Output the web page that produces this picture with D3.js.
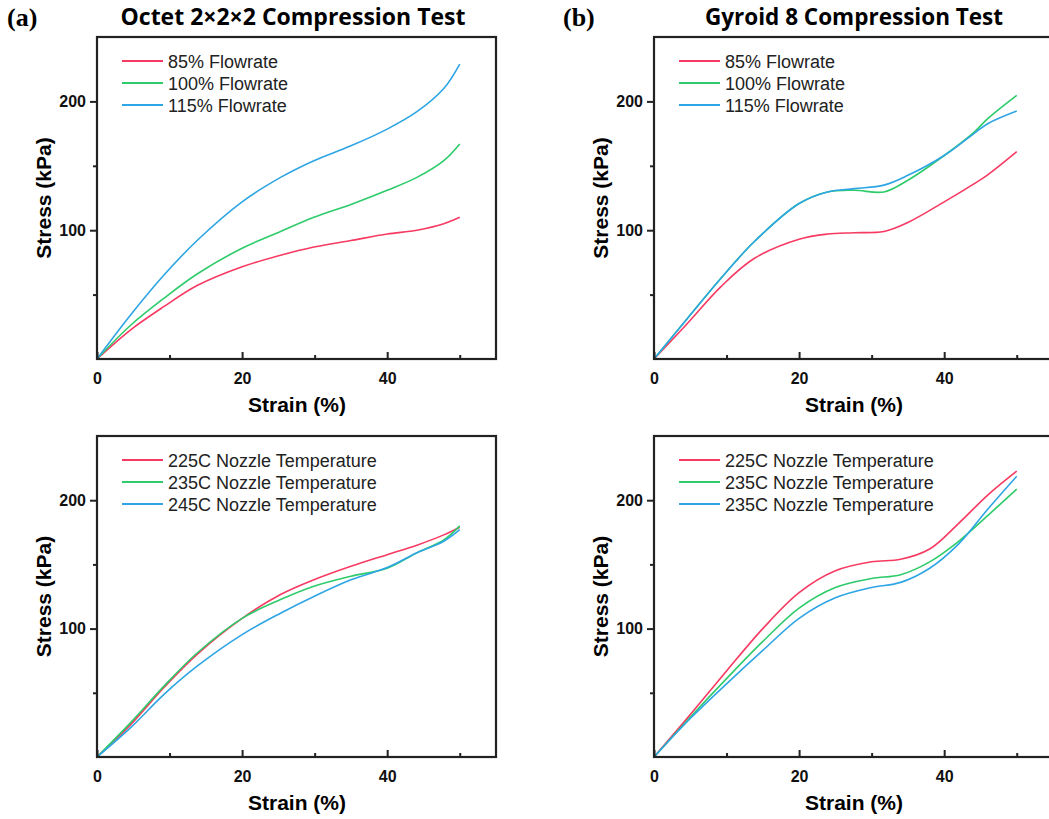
<!DOCTYPE html>
<html>
<head>
<meta charset="utf-8">
<script src="https://cdn.jsdelivr.net/npm/d3@7"></script>
<style>
  body { margin: 0; background: #fff; }
  svg { display: block; }
  .tick text { font-family: Arial, "Liberation Sans", sans-serif; font-weight: bold; font-size: 16px; fill: #111; }
</style>
</head>
<body>
<svg id="chart" width="1049" height="819"></svg>
<script>
// strain (%) samples shared by all series
const strainA = [0, 4.6, 9.2, 13.8, 20, 25.3, 29.9, 35, 40, 44.1, 47.8, 50];
const octetFlow85  = [0, 22.5, 40.6, 57, 71.6, 80.6, 87, 92, 97, 100, 105, 110];
const octetFlow100 = [0, 26, 47, 66, 86, 99, 110, 120, 131, 141, 154, 167];
const octetFlow115 = [0, 34, 65, 92, 122, 141, 154, 165.5, 178.5, 192, 210, 229];

const strainB = [0, 4.6, 9.2, 13.8, 20, 23.9, 27.6, 31.7, 35, 40, 44.1, 46, 50];
const gyroidFlow85  = [0, 27.6, 56, 78, 93, 97, 98, 99, 106, 122, 136, 143, 161];
const gyroidFlow100 = [0, 31.5, 62.5, 91, 120.7, 129.7, 131, 129.7, 138.8, 158, 176, 186.6, 204.7];
const gyroidFlow115 = [0, 31.5, 62.5, 91, 120.7, 129.7, 132.3, 135, 142.6, 158, 175, 182.7, 192.5];

const octetTemp225 = [0, 25, 54, 80, 108, 126.5, 138, 148.5, 157.6, 165, 173, 179];
const octetTemp235 = [0, 26.6, 55, 81, 108, 122.6, 133, 140.8, 147, 159, 169, 180];
const octetTemp245 = [0, 22.7, 48.6, 70.7, 95.3, 112, 125, 138, 147.5, 159, 168, 177];

const strainC = [0, 5, 10, 15, 20, 25, 30, 34, 38, 42, 46, 50];
const gyroidTemp225  = [0, 33, 67, 100, 128, 145, 152, 154, 162, 182, 204, 222.6];
const gyroidTemp235a = [0, 31, 61, 90, 116, 132, 139, 142, 152, 168, 188, 208.6];
const gyroidTemp235b = [0, 30, 57, 83, 108, 124, 132, 136, 147, 166, 193, 218.7];

const flowLabels = ["85% Flowrate", "100% Flowrate", "115% Flowrate"];
const octetTempLabels = ["225C Nozzle Temperature", "235C Nozzle Temperature", "245C Nozzle Temperature"];
const gyroidTempLabels = ["225C Nozzle Temperature", "235C Nozzle Temperature", "235C Nozzle Temperature"];
const colors = ["#f63a62", "#2ecb6a", "#2ea5e4"];

const svg = d3.select("#chart");
const sans = "Arial, 'Liberation Sans', sans-serif";

function panel(x0, y0, w, h, xs, series, labels) {
  const x = d3.scaleLinear().domain([0, 55]).range([x0, x0 + w]);
  const y = d3.scaleLinear().domain([0, 250]).range([y0 + h, y0]);
  const g = svg.append("g");

  const line = d3.line().x(d => x(d[0])).y(d => y(d[1])).curve(d3.curveCatmullRom.alpha(0.5));
  series.forEach((s, i) => {
    g.append("path")
      .datum(xs.map((v, j) => [v, s[j]]))
      .attr("d", line)
      .attr("fill", "none")
      .attr("stroke", colors[i])
      .attr("stroke-width", 1.6);
  });

  // minor ticks
  g.append("g").attr("transform", `translate(0,${y0 + h})`)
    .call(d3.axisTop(x).tickValues([10, 30, 50]).tickSize(4).tickFormat(""))
    .call(a => a.select(".domain").remove())
    .selectAll("line").attr("stroke", "#222").attr("stroke-width", 2);
  g.append("g").attr("transform", `translate(${x0},0)`)
    .call(d3.axisLeft(y).tickValues([50, 150]).tickSize(4).tickFormat(""))
    .call(a => a.select(".domain").remove())
    .selectAll("line").attr("stroke", "#222").attr("stroke-width", 2);

  // major ticks
  const xa = g.append("g").attr("transform", `translate(0,${y0 + h})`)
    .call(d3.axisTop(x).tickValues([0, 20, 40]).tickSize(7).tickPadding(10));
  xa.select(".domain").remove();
  xa.selectAll("line").attr("stroke", "#222").attr("stroke-width", 2);
  xa.selectAll("text").attr("y", 14).attr("dy", "0.71em");

  const ya = g.append("g").attr("transform", `translate(${x0},0)`)
    .call(d3.axisLeft(y).tickValues([100, 200]).tickSize(7).tickPadding(4));
  ya.select(".domain").remove();
  ya.selectAll("line").attr("stroke", "#222").attr("stroke-width", 2);

  // frame
  g.append("rect").attr("x", x0).attr("y", y0).attr("width", w).attr("height", h)
    .attr("fill", "none").attr("stroke", "#222").attr("stroke-width", 2.2);

  // axis titles
  g.append("text").attr("x", x0 + 200).attr("y", y0 + h + 53)
    .attr("text-anchor", "middle")
    .style("font-family", sans).style("font-weight", "bold").style("font-size", "21px")
    .text("Strain (%)");
  g.append("text")
    .attr("transform", `translate(${x0 - 46},${y0 + h / 2}) rotate(-90)`)
    .attr("text-anchor", "middle")
    .style("font-family", sans).style("font-weight", "bold").style("font-size", "21px")
    .text("Stress (kPa)");

  // legend
  labels.forEach((lab, i) => {
    const ly = y0 + 24 + i * 22;
    g.append("line").attr("x1", x0 + 25).attr("x2", x0 + 66).attr("y1", ly).attr("y2", ly)
      .attr("stroke", colors[i]).attr("stroke-width", 1.8);
    g.append("text").attr("x", x0 + 71).attr("y", ly + 6.5)
      .style("font-family", sans).style("font-size", "18px").style("fill", "#222")
      .text(lab);
  });
}

panel(97, 37, 399, 322, strainA, [octetFlow85, octetFlow100, octetFlow115], flowLabels);
panel(654, 37, 399, 322, strainB, [gyroidFlow85, gyroidFlow100, gyroidFlow115], flowLabels);
panel(97, 436, 399, 321, strainA, [octetTemp225, octetTemp235, octetTemp245], octetTempLabels);
panel(654, 436, 399, 321, strainC, [gyroidTemp225, gyroidTemp235a, gyroidTemp235b], gyroidTempLabels);

// titles
const titleFont = "'Open Sans', 'Noto Sans', sans-serif";
svg.append("text").attr("x", 293).attr("y", 25).attr("text-anchor", "middle")
  .style("font-family", titleFont).style("font-weight", "bold").style("font-size", "23px")
  .text("Octet 2×2×2 Compression Test");
svg.append("text").attr("x", 854).attr("y", 25).attr("text-anchor", "middle")
  .style("font-family", titleFont).style("font-weight", "bold").style("font-size", "22.5px")
  .text("Gyroid 8 Compression Test");
svg.append("text").attr("x", 7).attr("y", 26)
  .style("font-family", "'Liberation Serif', 'Times New Roman', serif").style("font-weight", "bold").style("font-size", "26px")
  .text("(a)");
svg.append("text").attr("x", 563).attr("y", 26)
  .style("font-family", "'Liberation Serif', 'Times New Roman', serif").style("font-weight", "bold").style("font-size", "26px")
  .text("(b)");
</script>
</body>
</html>
